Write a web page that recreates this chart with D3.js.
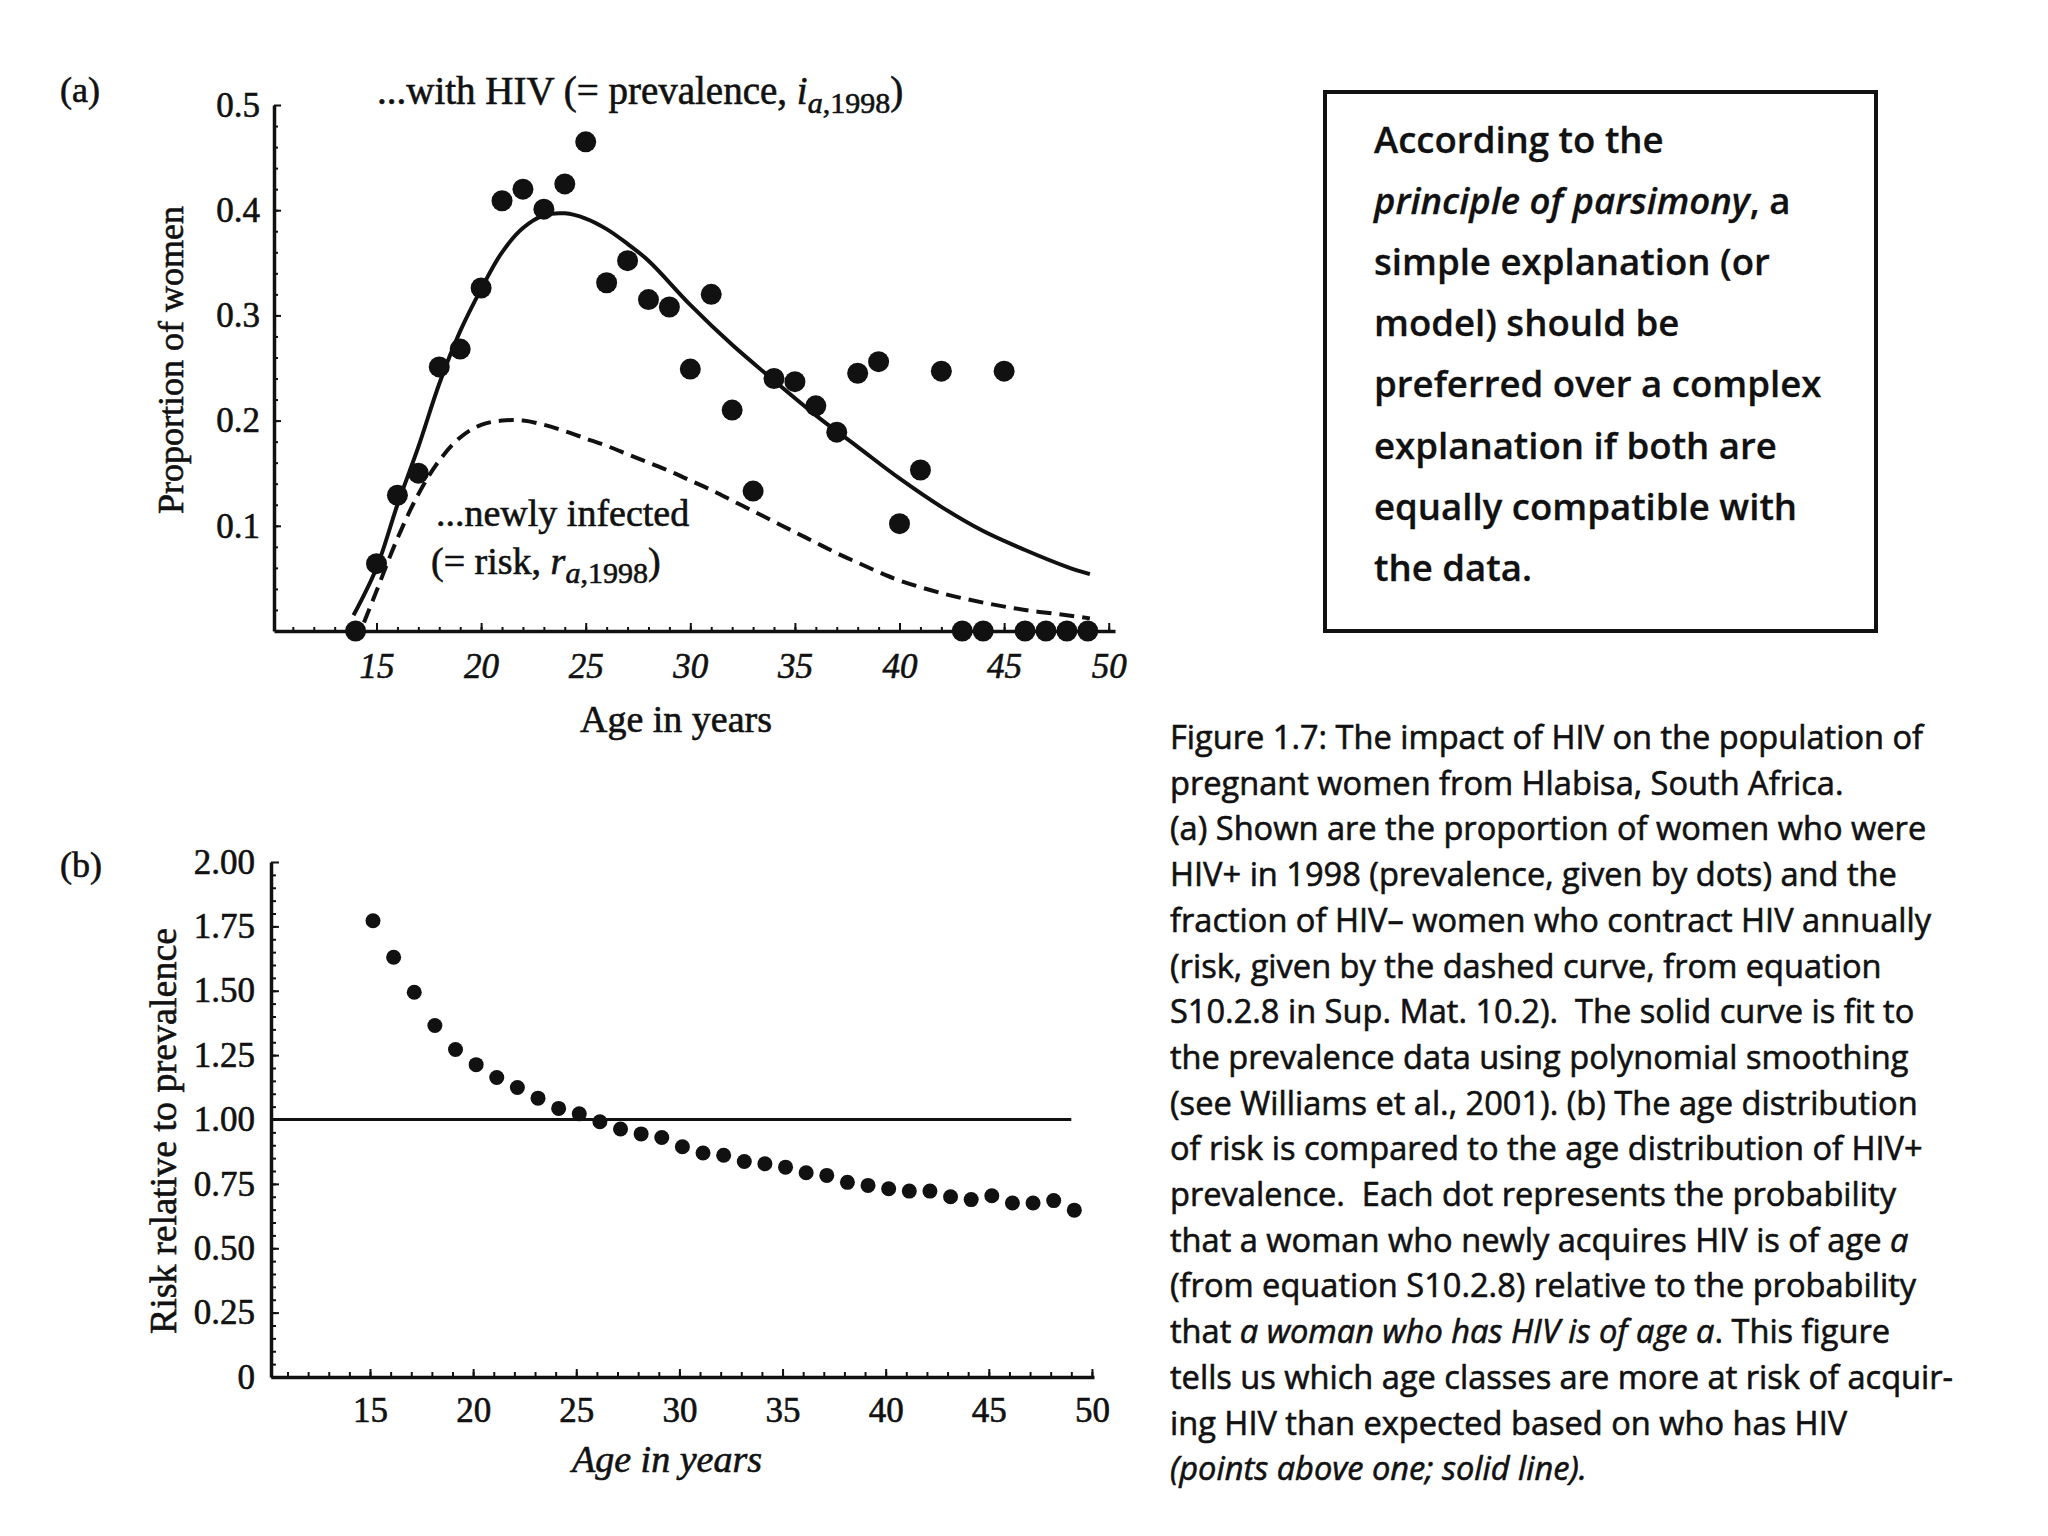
<!DOCTYPE html>
<html>
<head>
<meta charset="utf-8">
<script src="https://cdn.jsdelivr.net/npm/d3@7"></script>
<style>
  body { margin: 0; background: #fff; }
  svg { display: block; }
</style>
</head>
<body>
<script>
var svgWidth = 2048;
var svgHeight = 1536;

// Panel (a): prevalence by age (dots), fitted curve and risk curve
var agesA = [14, 15, 16, 17, 18, 19, 20, 21, 22, 23, 24, 25, 26, 27, 28, 29, 30, 31,
             32, 33, 34, 35, 36, 37, 38, 39, 40, 41, 42, 43, 44, 45, 46, 47, 48, 49];
var prevalence = [0, 0.064, 0.129, 0.150, 0.251, 0.268, 0.326, 0.409, 0.420, 0.401, 0.425, 0.465,
                  0.331, 0.352, 0.315, 0.308, 0.249, 0.320, 0.210, 0.133, 0.240, 0.237, 0.214, 0.189,
                  0.245, 0.256, 0.102, 0.153, 0.247, 0, 0, 0.247, 0, 0, 0, 0];

var fitAges = [13.9, 15, 16, 17, 18, 19, 20, 21, 22, 23, 24, 25, 26, 27, 28, 30, 32, 34, 36, 38, 40, 42, 44, 46, 48, 49.1];
var fitValues = [0.015, 0.06, 0.12, 0.175, 0.235, 0.285, 0.325, 0.36, 0.383, 0.395, 0.397, 0.392, 0.382,
                 0.368, 0.352, 0.31, 0.272, 0.238, 0.205, 0.175, 0.145, 0.118, 0.095, 0.077, 0.061, 0.054];

var riskAges = [14.4, 15, 16, 17, 18, 19, 20, 21, 22, 23, 24, 25, 26, 27, 28, 29, 30, 31, 32, 33, 34, 35,
                36, 37, 38, 39, 40, 42, 44, 46, 48, 49.1];
var riskValues = [0.008, 0.038, 0.088, 0.13, 0.162, 0.184, 0.196, 0.2, 0.2, 0.196, 0.19, 0.183, 0.176, 0.168,
                  0.16, 0.152, 0.143, 0.134, 0.124, 0.114, 0.104, 0.094, 0.084, 0.074, 0.065, 0.056, 0.048,
                  0.036, 0.027, 0.02, 0.015, 0.012];

var xTicksA = [15, 20, 25, 30, 35, 40, 45, 50];
var yTicksA = [0.1, 0.2, 0.3, 0.4, 0.5];
var yLabelsA = ["0.1", "0.2", "0.3", "0.4", "0.5"];

// Panel (b): risk relative to prevalence
var agesB = [15, 16, 17, 18, 19, 20, 21, 22, 23, 24, 25, 26, 27, 28, 29, 30, 31, 32,
             33, 34, 35, 36, 37, 38, 39, 40, 41, 42, 43, 44, 45, 46, 47, 48, 49];
var relRisk = [1.772, 1.630, 1.494, 1.365, 1.272, 1.213, 1.163, 1.124, 1.083, 1.043, 1.022, 0.991,
               0.963, 0.944, 0.930, 0.894, 0.870, 0.861, 0.837, 0.828, 0.815, 0.793, 0.783, 0.756,
               0.744, 0.731, 0.722, 0.722, 0.700, 0.689, 0.704, 0.676, 0.676, 0.685, 0.648];
var refLine = [[10.2, 1], [49, 1]];

var xTicksB = [15, 20, 25, 30, 35, 40, 45, 50];
var yTicksB = [0, 0.25, 0.5, 0.75, 1, 1.25, 1.5, 1.75, 2];
var yLabelsB = ["0", "0.25", "0.50", "0.75", "1.00", "1.25", "1.50", "1.75", "2.00"];

var boxLines = [
  [["According to the", false]],
  [["principle of parsimony", true], [", a", false]],
  [["simple explanation (or", false]],
  [["model) should be", false]],
  [["preferred over a complex", false]],
  [["explanation if both are", false]],
  [["equally compatible with", false]],
  [["the data.", false]]
];

var captionLines = [
  [["Figure 1.7: The impact of HIV on the population of", false]],
  [["pregnant women from Hlabisa, South Africa.", false]],
  [["(a) Shown are the proportion of women who were", false]],
  [["HIV+ in 1998 (prevalence, given by dots) and the", false]],
  [["fraction of HIV\u2013 women who contract HIV annually", false]],
  [["(risk, given by the dashed curve, from equation", false]],
  [["S10.2.8 in Sup. Mat. 10.2).  The solid curve is fit to", false]],
  [["the prevalence data using polynomial smoothing", false]],
  [["(see Williams et al., 2001). (b) The age distribution", false]],
  [["of risk is compared to the age distribution of HIV+", false]],
  [["prevalence.  Each dot represents the probability", false]],
  [["that a woman who newly acquires HIV is of age ", false], ["a", true]],
  [["(from equation S10.2.8) relative to the probability", false]],
  [["that ", false], ["a woman who has HIV is of age a", true], [". This figure", false]],
  [["tells us which age classes are more at risk of acquir-", false]],
  [["ing HIV than expected based on who has HIV", false]],
  [["(points above one; solid line).", true]]
];

var serif = "'Liberation Serif', 'Times New Roman', serif";
var sans = "'Open Sans', 'Noto Sans', sans-serif";

var svg = d3.select("body")
  .append("svg")
  .attr("width", svgWidth)
  .attr("height", svgHeight);

svg.append("rect").attr("width", svgWidth).attr("height", svgHeight).attr("fill", "#fff");

// scanned print looks a bit heavier, so give serif text a thin outline
function ink(sel, w) {
  return sel.attr("fill", "#111").attr("stroke", "#111").attr("stroke-width", w);
}

function styleAxis(g, italic) {
  g.attr("font-family", serif).attr("font-size", 35);
  g.select(".domain").attr("stroke", "#111").attr("stroke-width", 3.5);
  g.selectAll(".tick line").attr("stroke", "#111").attr("stroke-width", 2);
  g.selectAll(".tick text").call(ink, 0.6).attr("font-style", italic ? "italic" : "normal");
}

// ---------- Panel (a) ----------
var xA = d3.scaleLinear().domain([10.1, 50.3]).range([274, 1115]);
var yA = d3.scaleLinear().domain([0, 0.5]).range([631, 105]);

svg.append("g")
  .attr("transform", "translate(274,0)")
  .call(d3.axisLeft(yA).tickValues(d3.range(0.02, 0.5, 0.02)).tickSize(-4).tickSizeOuter(0).tickFormat(""))
  .call(g => g.select(".domain").remove())
  .call(g => g.selectAll("line").attr("stroke", "#111").attr("stroke-width", 2));

svg.append("g")
  .attr("transform", "translate(274,0)")
  .call(d3.axisLeft(yA).tickValues(yTicksA).tickSize(-7).tickSizeOuter(0).tickPadding(14)
    .tickFormat((d, i) => yLabelsA[i]))
  .call(g => styleAxis(g, false));

svg.append("g")
  .attr("transform", "translate(0,631)")
  .call(d3.axisBottom(xA).tickValues(d3.range(11, 51)).tickSize(-4).tickSizeOuter(0).tickFormat(""))
  .call(g => g.select(".domain").remove())
  .call(g => g.selectAll("line").attr("stroke", "#111").attr("stroke-width", 2));

svg.append("g")
  .attr("transform", "translate(0,631)")
  .call(d3.axisBottom(xA).tickValues(xTicksA).tickSize(-8).tickSizeOuter(0).tickPadding(22))
  .call(g => styleAxis(g, true));

var lineA = d3.line().x(d => xA(d[0])).y(d => yA(d[1])).curve(d3.curveCatmullRom);

svg.append("path")
  .datum(riskAges.map((a, i) => [a, riskValues[i]]))
  .attr("d", lineA)
  .attr("fill", "none")
  .attr("stroke", "#111")
  .attr("stroke-width", 4)
  .attr("stroke-dasharray", "15,8");

svg.append("path")
  .datum(fitAges.map((a, i) => [a, fitValues[i]]))
  .attr("d", lineA)
  .attr("fill", "none")
  .attr("stroke", "#111")
  .attr("stroke-width", 4);

svg.append("g").selectAll("circle")
  .data(agesA.map((a, i) => [a, prevalence[i]]))
  .enter()
  .append("circle")
  .attr("cx", d => xA(d[0]))
  .attr("cy", d => yA(d[1]))
  .attr("r", 10.5)
  .attr("fill", "#111");

svg.append("text").attr("x", 60).attr("y", 102)
  .attr("font-family", serif).attr("font-size", 36).call(ink, 0.6).text("(a)");

var title = svg.append("text").attr("x", 377).attr("y", 104)
  .attr("font-family", serif).attr("font-size", 39).call(ink, 0.6);
title.append("tspan").text("...with HIV (= prevalence, ");
title.append("tspan").attr("font-style", "italic").text("i");
title.append("tspan").attr("font-style", "italic").attr("font-size", 30).attr("dy", 9).text("a");
title.append("tspan").attr("font-size", 30).text(",1998");
title.append("tspan").attr("dy", -9).text(")");

svg.append("text").attr("x", 436).attr("y", 526)
  .attr("font-family", serif).attr("font-size", 38).call(ink, 0.6).text("...newly infected");

var riskLab = svg.append("text").attr("x", 431).attr("y", 574)
  .attr("font-family", serif).attr("font-size", 38).call(ink, 0.6);
riskLab.append("tspan").text("(= risk, ");
riskLab.append("tspan").attr("font-style", "italic").text("r");
riskLab.append("tspan").attr("font-style", "italic").attr("font-size", 30).attr("dy", 9).text("a");
riskLab.append("tspan").attr("font-size", 30).text(",1998");
riskLab.append("tspan").attr("dy", -9).text(")");

svg.append("text")
  .attr("transform", "translate(183,360) rotate(-90)")
  .attr("text-anchor", "middle")
  .attr("font-family", serif).attr("font-size", 36).call(ink, 0.6)
  .text("Proportion of women");

svg.append("text")
  .attr("x", 676).attr("y", 732)
  .attr("text-anchor", "middle")
  .attr("font-family", serif).attr("font-size", 38).call(ink, 0.6)
  .text("Age in years");

// ---------- Panel (b) ----------
var xB = d3.scaleLinear().domain([10.2, 50.1]).range([271, 1094]);
var yB = d3.scaleLinear().domain([0, 2]).range([1377, 862]);

svg.append("g")
  .attr("transform", "translate(271,0)")
  .call(d3.axisLeft(yB).tickValues(d3.range(0.05, 2.0, 0.05)).tickSize(-5).tickSizeOuter(0).tickFormat(""))
  .call(g => g.select(".domain").remove())
  .call(g => g.selectAll("line").attr("stroke", "#111").attr("stroke-width", 2));

svg.append("g")
  .attr("transform", "translate(271,0)")
  .call(d3.axisLeft(yB).tickValues(yTicksB).tickSize(-8).tickSizeOuter(0).tickPadding(16)
    .tickFormat((d, i) => yLabelsB[i]))
  .call(g => styleAxis(g, false));

svg.append("g")
  .attr("transform", "translate(0,1377)")
  .call(d3.axisBottom(xB).tickValues(d3.range(11, 51)).tickSize(-5).tickSizeOuter(0).tickFormat(""))
  .call(g => g.select(".domain").remove())
  .call(g => g.selectAll("line").attr("stroke", "#111").attr("stroke-width", 2));

svg.append("g")
  .attr("transform", "translate(0,1377)")
  .call(d3.axisBottom(xB).tickValues(xTicksB).tickSize(-8).tickSizeOuter(0).tickPadding(20))
  .call(g => styleAxis(g, false));

svg.append("path")
  .datum(refLine)
  .attr("d", d3.line().x(d => xB(d[0])).y(d => yB(d[1])))
  .attr("fill", "none")
  .attr("stroke", "#111")
  .attr("stroke-width", 3);

svg.append("g").selectAll("circle")
  .data(agesB.map((a, i) => [a, relRisk[i]]))
  .enter()
  .append("circle")
  .attr("cx", d => xB(d[0]) + 3)
  .attr("cy", d => yB(d[1]))
  .attr("r", 7.5)
  .attr("fill", "#111");

svg.append("text").attr("x", 60).attr("y", 877)
  .attr("font-family", serif).attr("font-size", 36).call(ink, 0.6).text("(b)");

svg.append("text")
  .attr("transform", "translate(176,1131) rotate(-90)")
  .attr("text-anchor", "middle")
  .attr("font-family", serif).attr("font-size", 38).call(ink, 0.6)
  .text("Risk relative to prevalence");

svg.append("text")
  .attr("x", 667).attr("y", 1472)
  .attr("text-anchor", "middle")
  .attr("font-family", serif).attr("font-size", 38).attr("font-style", "italic").call(ink, 0.6)
  .text("Age in years");

// ---------- Box and caption ----------
svg.append("rect")
  .attr("x", 1325).attr("y", 92).attr("width", 551).attr("height", 539)
  .attr("fill", "none").attr("stroke", "#111").attr("stroke-width", 4);

function writeLines(lines, x, y0, step, size, weight, outline) {
  lines.forEach(function(parts, i) {
    var t = svg.append("text")
      .attr("x", x).attr("y", y0 + i * step)
      .attr("font-family", sans).attr("font-size", size)
      .attr("font-weight", weight)
      .call(ink, outline)
      .attr("xml:space", "preserve")
      .style("white-space", "pre");
    parts.forEach(function(p) {
      t.append("tspan").attr("font-style", p[1] ? "italic" : "normal").text(p[0]);
    });
  });
}

writeLines(boxLines, 1374, 153, 61.1, 36.6, 600, 0.3);
writeLines(captionLines, 1170, 749, 45.7, 32.6, 400, 0.6);
</script>
</body>
</html>
